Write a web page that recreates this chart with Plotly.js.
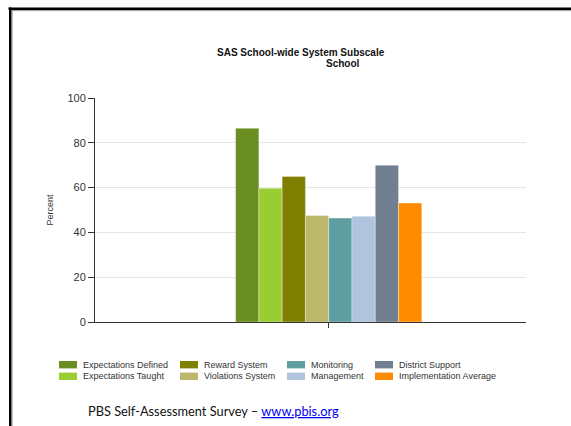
<!DOCTYPE html>
<html>
<head>
<meta charset="utf-8">
<script src="https://cdn.plot.ly/plotly-3.0.1.min.js"></script>
<style>
  html, body { margin: 0; padding: 0; background: #ffffff; }
  #chart { width: 571px; height: 426px; }
</style>
</head>
<body>
<div id="chart"></div>
<script>
// Subscale scores (percent) for the school
const category = ['School'];
const subscales = [
  'Expectations Defined', 'Expectations Taught', 'Reward System', 'Violations System',
  'Monitoring', 'Management', 'District Support', 'Implementation Average'
];
const percents = [86.5, 59.7, 65.0, 47.6, 46.4, 47.2, 70.0, 53.1];
const colors = ['#6B8E23', '#9ACD32', '#808000', '#BDB76B', '#5F9EA0', '#B0C4DE', '#708090', '#FF8C00'];
const yTicks = [0, 20, 40, 60, 80, 100];

// Plot area in pixels
const W = 571, H = 426;
const L = 95, R = 526, T = 98, B = 322;
const px = x => (x - L) / (R - L);
const py = y => (B - y) / (B - T);

// The category sits right of the plot centre; one category spans the full axis width
const catCentre = px(328.7);
const xRange = [-catCentre, 1 - catCentre];

const traces = subscales.map((name, i) => ({
  type: 'bar',
  name: name,
  x: category,
  y: [percents[i]],
  marker: { color: colors[i], line: { color: 'rgba(255,255,255,0.35)', width: 1 } },
  hoverinfo: 'name+y',
  showlegend: false
}));

// Legend laid out in four columns of two rows
const colX = [59, 180, 287, 375];
const rowY = [364.7, 376.3];
const shapes = [];
const annotations = [];
subscales.forEach((name, i) => {
  const c = Math.floor(i / 2), r = i % 2;
  shapes.push({
    type: 'rect', xref: 'paper', yref: 'paper',
    x0: px(colX[c]), x1: px(colX[c] + 18),
    y0: py(rowY[r] - 3.7), y1: py(rowY[r] + 3.7),
    fillcolor: colors[i], line: { width: 0 }
  });
  annotations.push({
    xref: 'paper', yref: 'paper', x: px(colX[c] + 21.5), y: py(rowY[r]),
    xanchor: 'left', yanchor: 'middle', showarrow: false,
    text: name, font: { family: 'Liberation Sans, Arial, sans-serif', size: 9, color: '#333333' }
  });
});

// Title lines
annotations.push({
  xref: 'paper', yref: 'paper', x: px(301), y: py(52), xanchor: 'center', yanchor: 'middle',
  showarrow: false, text: '<b>SAS School-wide System Subscale</b>',
  font: { family: 'Liberation Sans, Arial, sans-serif', size: 10, color: '#111111' }
});
annotations.push({
  xref: 'paper', yref: 'paper', x: px(343), y: py(63), xanchor: 'center', yanchor: 'middle',
  showarrow: false, text: '<b>School</b>',
  font: { family: 'Liberation Sans, Arial, sans-serif', size: 10, color: '#111111' }
});

// Footer source line
annotations.push({
  xref: 'paper', yref: 'paper', x: px(86), y: py(411), xanchor: 'left', yanchor: 'middle',
  showarrow: false,
  text: 'PBS Self-Assessment Survey – <a href="http://www.pbis.org"><span style="color:#0000ee;text-decoration:underline">www.pbis.org</span></a>',
  font: { family: 'Lato, Open Sans, sans-serif', size: 12.8, color: '#111111' }
});

// Page frame (top and left rules)
shapes.push({ type: 'line', xref: 'paper', yref: 'paper', x0: px(8.5), x1: px(W + 5), y0: py(8.7), y1: py(8.7), line: { color: '#000000', width: 2.6 } });
shapes.push({ type: 'line', xref: 'paper', yref: 'paper', x0: px(11.7), x1: px(W + 5), y0: py(10.6), y1: py(10.6), line: { color: '#9a9a9a', width: 1 } });
shapes.push({ type: 'line', xref: 'paper', yref: 'paper', x0: px(10.3), x1: px(10.3), y0: py(7.4), y1: py(H + 5), line: { color: '#000000', width: 2.6 } });
shapes.push({ type: 'line', xref: 'paper', yref: 'paper', x0: px(12.1), x1: px(12.1), y0: py(10.1), y1: py(H + 5), line: { color: '#9a9a9a', width: 1 } });

const layout = {
  width: W, height: H,
  margin: { l: L, r: W - R, t: T, b: H - B, pad: 0 },
  paper_bgcolor: '#ffffff', plot_bgcolor: '#ffffff',
  barmode: 'group', bargap: 0.568, bargroupgap: 0,
  showlegend: false,
  font: { family: 'Liberation Sans, Arial, sans-serif', color: '#333333' },
  xaxis: {
    type: 'category', range: xRange, showticklabels: false, ticks: 'outside', ticklen: 5,
    tickcolor: '#333333', showline: true, linecolor: '#333333', linewidth: 1,
    showgrid: false, zeroline: false, fixedrange: true
  },
  yaxis: {
    range: [0, 100], tickvals: yTicks, ticktext: yTicks.map(String),
    ticks: 'outside', ticklen: 6, tickcolor: '#333333',
    tickfont: { size: 11, color: '#333333' },
    showline: true, linecolor: '#333333', linewidth: 1,
    showgrid: true, gridcolor: '#e6e6e6', gridwidth: 1, zeroline: false,
    title: { text: 'Percent', font: { size: 9, color: '#333333' }, standoff: 12 },
    automargin: false, fixedrange: true
  },
  shapes: shapes,
  annotations: annotations
};

Plotly.newPlot('chart', traces, layout, { staticPlot: true, displayModeBar: false });
</script>
</body>
</html>
